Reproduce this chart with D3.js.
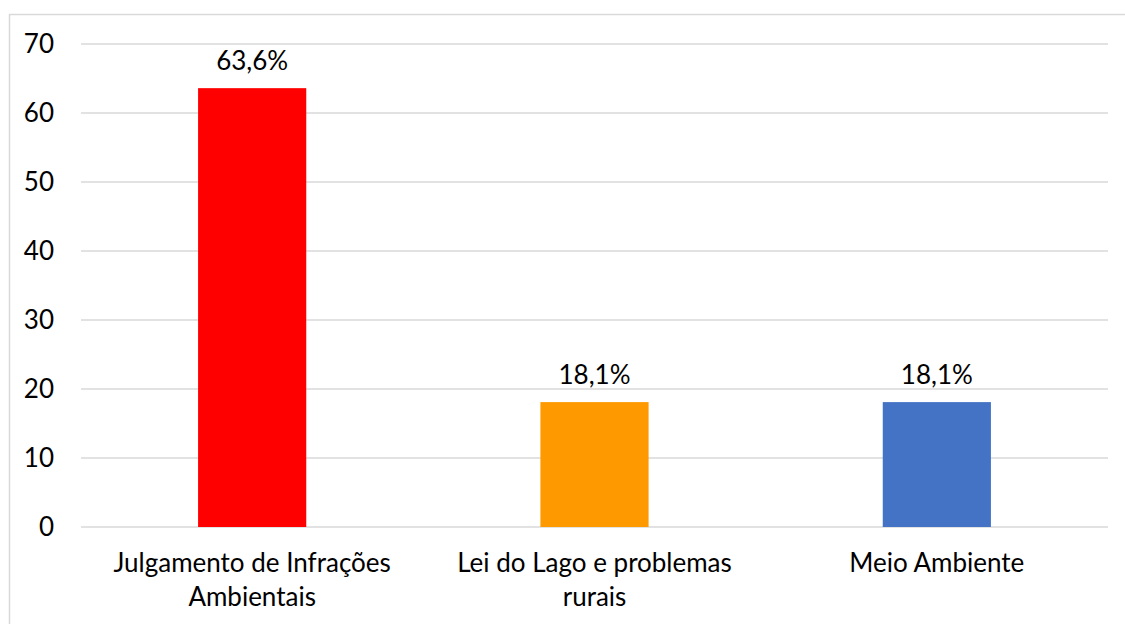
<!DOCTYPE html>
<html>
<head>
<meta charset="utf-8">
<script src="https://cdn.jsdelivr.net/npm/d3@7"></script>
<style>
  body { margin: 0; background: #fff; }
  svg { display: block; font-family: Lato, "Noto Sans", sans-serif; }
</style>
</head>
<body>
<svg width="1125" height="624"></svg>
<script>
// chart values
const categories = [
  ["Julgamento de Infrações", "Ambientais"],
  ["Lei do Lago e problemas", "rurais"],
  ["Meio Ambiente"]
];
const values = [63.6, 18.1, 18.1];
const valueLabels = ["63,6%", "18,1%", "18,1%"];
const colors = ["#ff0000", "#ff9900", "#4472c4"];
const yTicks = [0, 10, 20, 30, 40, 50, 60, 70];

const svg = d3.select("svg");
const fontSize = 26;

// outer chart border
svg.append("rect")
  .attr("x", 9.5).attr("y", 14.5)
  .attr("width", 1130).attr("height", 620)
  .attr("fill", "none")
  .attr("stroke", "#d9d9d9")
  .attr("stroke-width", 1.5);

const plotLeft = 81, plotRight = 1108, plotTop = 44, plotBottom = 527;

const x = d3.scaleBand()
  .domain(d3.range(values.length))
  .range([plotLeft, plotRight])
  .paddingInner(0.684)
  .paddingOuter(0.342);

const y = d3.scaleLinear()
  .domain([0, 70])
  .range([plotBottom, plotTop]);

// gridlines
svg.append("g")
  .selectAll("line")
  .data(yTicks)
  .join("line")
  .attr("x1", plotLeft).attr("x2", plotRight)
  .attr("y1", d => y(d)).attr("y2", d => y(d))
  .attr("stroke", "#d9d9d9")
  .attr("stroke-width", 1.5);

// y axis labels
const yAxis = d3.axisLeft(y).tickValues(yTicks).tickSize(0).tickPadding(0);
svg.append("g")
  .attr("transform", "translate(54,0)")
  .call(yAxis)
  .call(g => g.select(".domain").remove())
  .selectAll("text")
  .attr("font-family", "Lato, 'Noto Sans', sans-serif")
  .attr("font-size", fontSize)
  .attr("fill", "#000");

// bars
svg.append("g")
  .selectAll("rect")
  .data(values)
  .join("rect")
  .attr("x", (d, i) => x(i))
  .attr("width", x.bandwidth())
  .attr("y", d => y(d))
  .attr("height", d => y(0) - y(d))
  .attr("fill", (d, i) => colors[i]);

// value labels
svg.append("g")
  .selectAll("text")
  .data(values)
  .join("text")
  .attr("x", (d, i) => x(i) + x.bandwidth() / 2)
  .attr("y", d => y(d) - 18)
  .attr("text-anchor", "middle")
  .attr("font-size", fontSize)
  .text((d, i) => valueLabels[i]);

// category labels
const cat = svg.append("g")
  .selectAll("text")
  .data(categories)
  .join("text")
  .attr("x", (d, i) => x(i) + x.bandwidth() / 2)
  .attr("y", 572)
  .attr("text-anchor", "middle")
  .attr("font-size", fontSize);
cat.selectAll("tspan")
  .data(d => d)
  .join("tspan")
  .attr("x", function () { return d3.select(this.parentNode).attr("x"); })
  .attr("dy", (d, i) => i === 0 ? 0 : 34)
  .text(d => d);
</script>
</body>
</html>
